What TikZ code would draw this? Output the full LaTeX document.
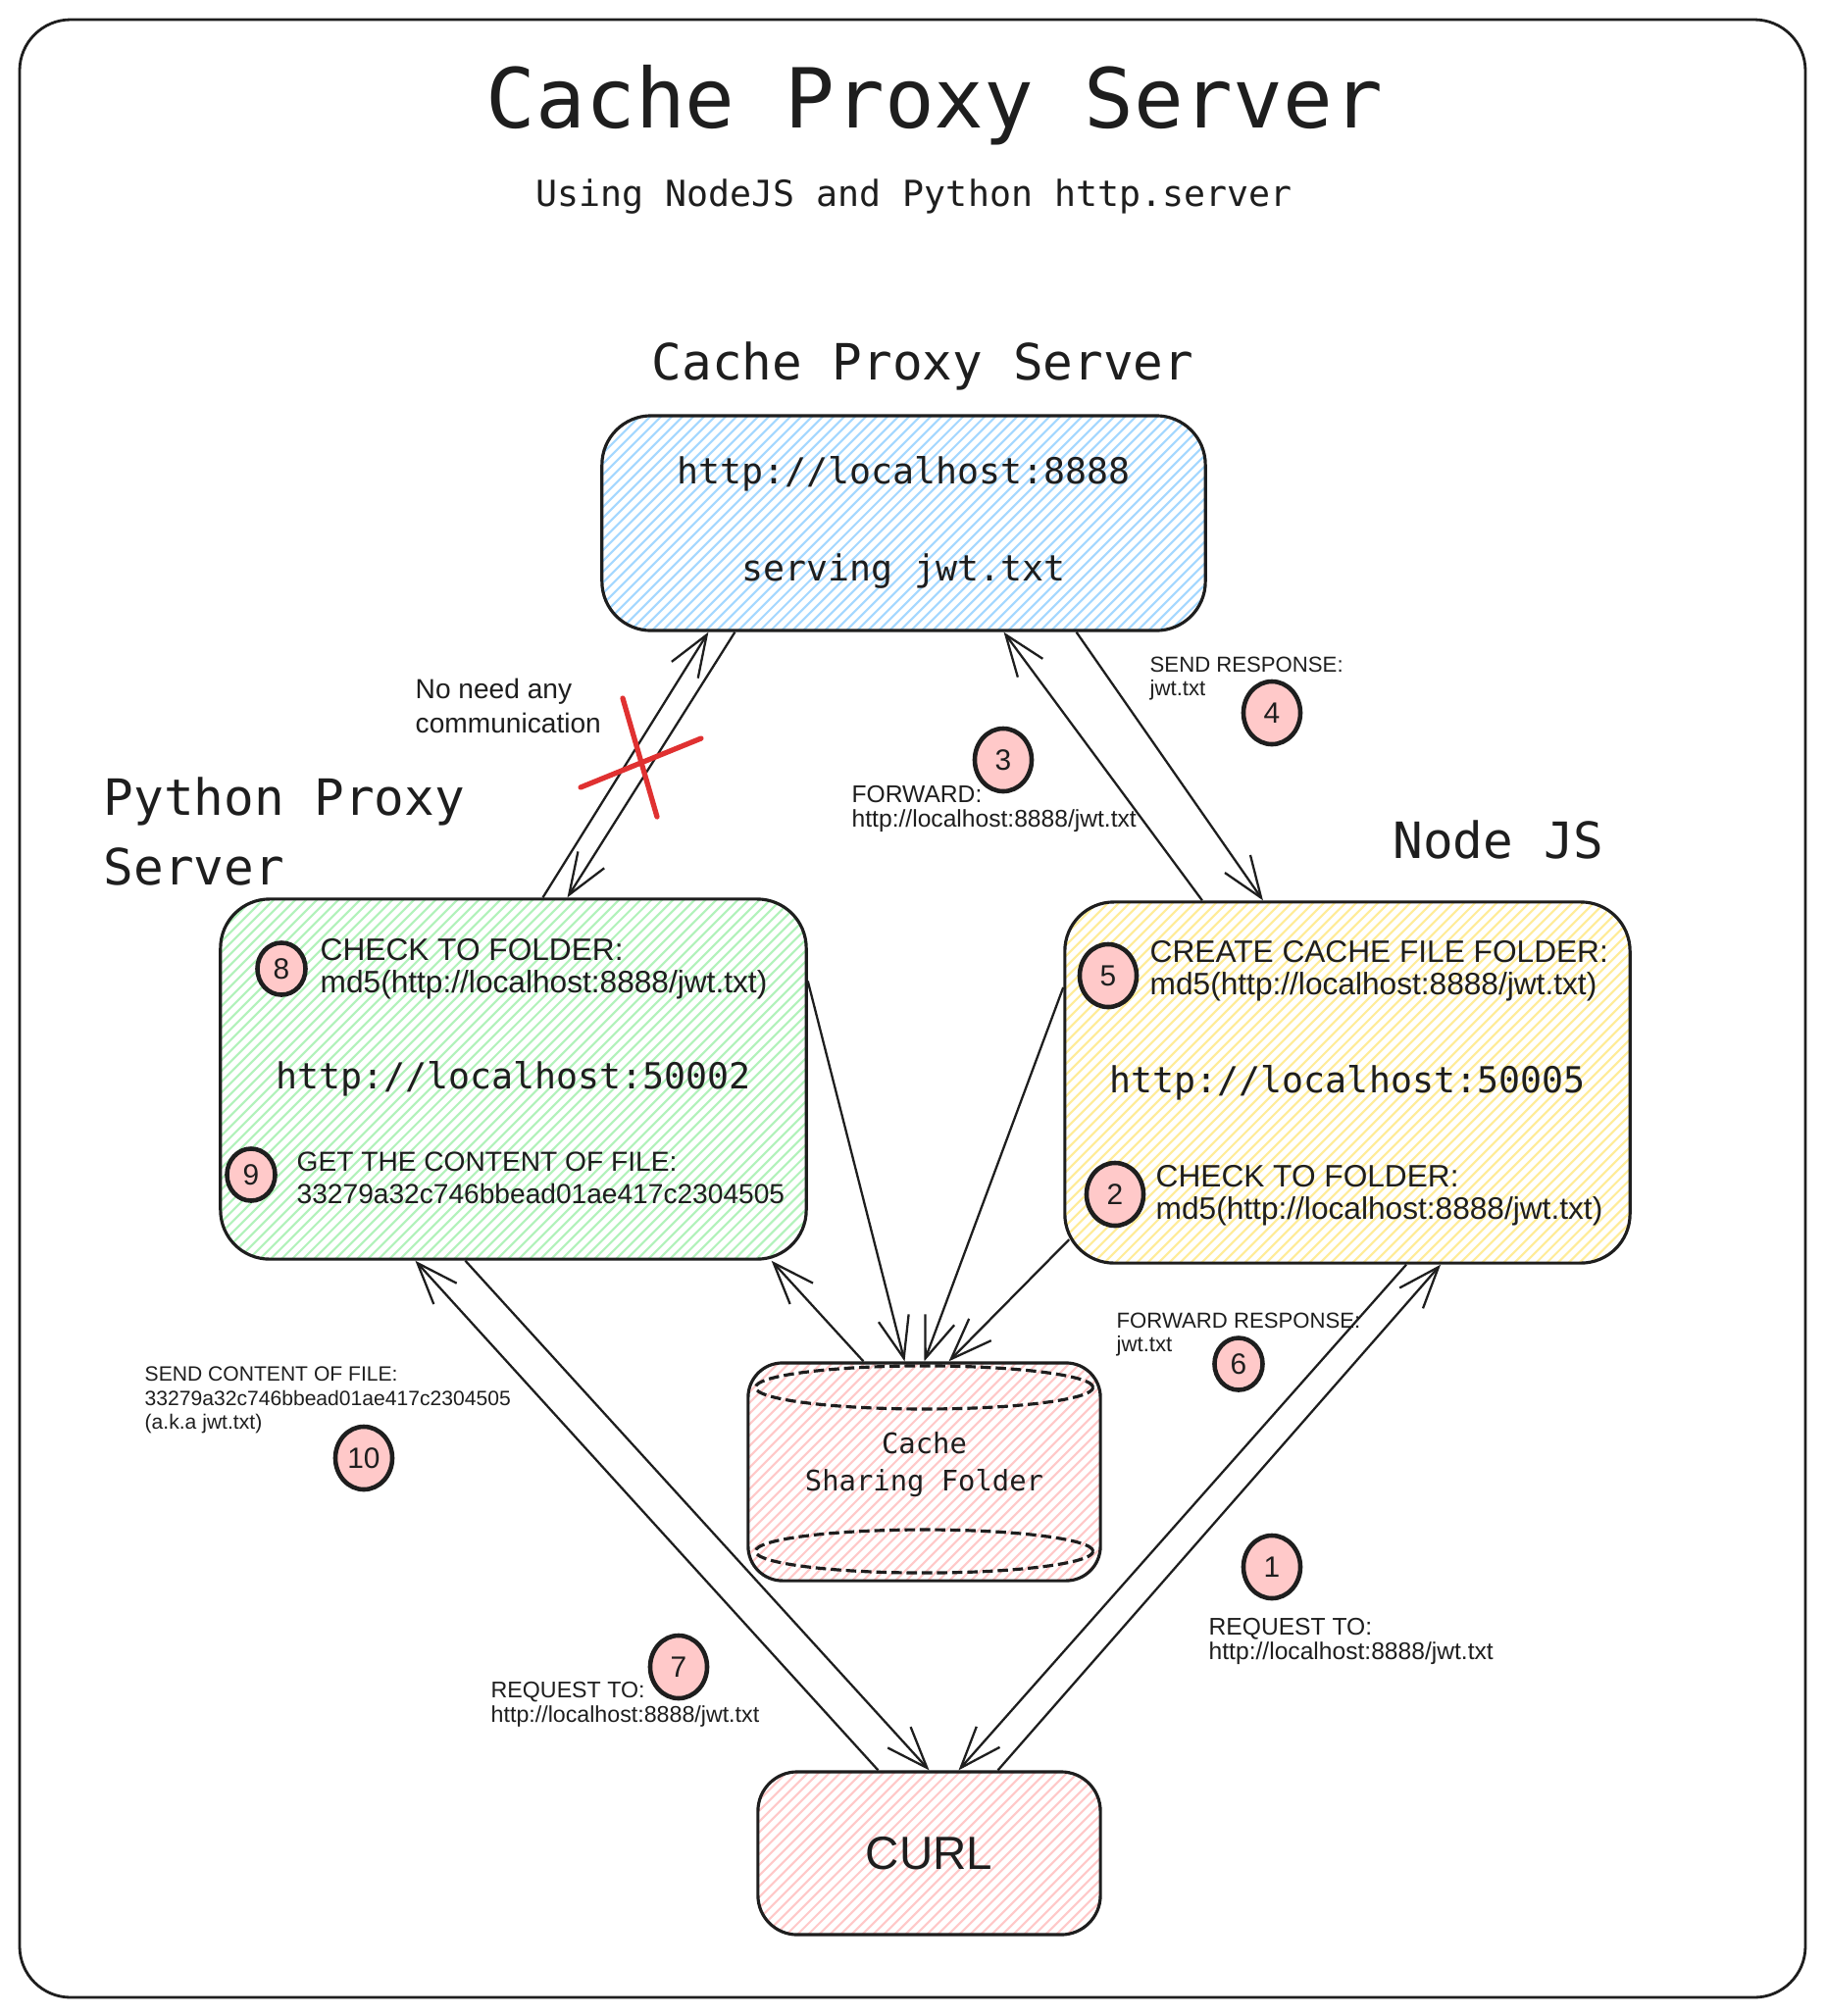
\documentclass[tikz,border=0pt]{standalone}
\usepackage{fontspec}
\setmainfont{Liberation Sans}
\setmonofont{DejaVu Sans Mono}
\usepackage{xcolor}
\usepackage{tikz}
\usetikzlibrary{positioning,arrows.meta,shapes.geometric}

\definecolor{ink}{HTML}{1E1E1E}
\definecolor{hatchblue}{HTML}{A5D8FF}
\definecolor{hatchgreen}{HTML}{B2F2BB}
\definecolor{hatchyellow}{HTML}{FFEC99}
\definecolor{hatchpink}{HTML}{FFC9C9}
\definecolor{crossred}{HTML}{E03131}

\begin{document}
\begin{tikzpicture}[x=0.01cm,y=-0.01cm,
	hatch/.style={path picture={
		\foreach \k in {0,...,100}
			\draw[#1,line width=0.6pt] ([xshift=\k*0.11cm-4cm]path picture bounding box.south west) -- ++(45:6cm);
	}},
	srvbox/.style={draw=ink,line width=0.9pt,rounded corners=0.5cm,inner sep=0pt},
	flow/.style={draw=ink,line width=0.65pt,-{Straight Barb[length=12pt,width=9pt]}},
	stepnum/.style={ellipse,draw=ink,line width=1.3pt,fill=hatchpink,inner sep=0pt,minimum width=0.58cm,minimum height=0.64cm,text=ink,font=\fontsize{8.5}{9}\selectfont},
	smallnum/.style={stepnum,minimum width=0.49cm,minimum height=0.53cm},
	note/.style={inner sep=0pt,anchor=west,align=left,text=ink,font=\fontsize{7}{7}\selectfont},
	boxnote/.style={note,font=\fontsize{9}{9.4}\selectfont},
	code/.style={inner sep=0pt,text=ink,font=\ttfamily\fontsize{10.4}{12}\selectfont}
	]
	\fill[white] (0,0) rectangle (1861,2056);
	% frame
	\draw[ink,line width=0.8pt,rounded corners=0.52cm] (20,20) rectangle (1841,2037);

	% headings
	\node[inner sep=0pt,text=ink,anchor=base,font=\ttfamily\fontsize{24}{28}\selectfont] (title) at (953,130) {Cache Proxy Server};
	\node[code,anchor=base] (subtitle) at (932,210) {Using NodeJS and Python http.server};
	\node[inner sep=0pt,text=ink,anchor=base,font=\ttfamily\fontsize{14.5}{20}\selectfont] (cpslabel) at (941,387) {Cache Proxy Server};
	\node[inner sep=0pt,text=ink,anchor=west,align=left,font=\ttfamily\fontsize{14.5}{20}\selectfont] (ppslabel) at (105,848) {Python Proxy\\Server};
	\node[inner sep=0pt,text=ink,anchor=base,font=\ttfamily\fontsize{14.5}{20}\selectfont] (njslabel) at (1528,875) {Node JS};

	% boxes
	\node[srvbox,hatch=hatchblue,minimum width=6.15cm,minimum height=2.19cm] (cps) at (921.5,533.5) {};
	\node[srvbox,hatch=hatchgreen,minimum width=5.97cm,minimum height=3.67cm] (pps) at (523.5,1100.5) {};
	\node[srvbox,hatch=hatchyellow,minimum width=5.76cm,minimum height=3.68cm] (njs) at (1374,1104) {};
	\node[srvbox,hatch=hatchpink,rounded corners=0.35cm,minimum width=3.59cm,minimum height=2.22cm] (folder) at (942.5,1501) {};
	\node[srvbox,hatch=hatchpink,rounded corners=0.4cm,minimum width=3.49cm,minimum height=1.66cm] (curl) at (947.5,1890) {};

	% cache proxy server
	\node[code] (cpsurl) at ([yshift=0.5cm]cps.center) {http://localhost:8888};
	\node[code] (cpsfile) at ([yshift=-0.49cm]cps.center) {serving jwt.txt};

	% python proxy server
	\node[code] (ppsurl) at (pps) {http://localhost:50002};
	\node[smallnum] (s8) at (287,988) {8};
	\node[boxnote] (n8) at (326,988) {CHECK TO FOLDER:\\md5(http://localhost:8888/jwt.txt)};
	\node[smallnum] (s9) at (256,1198) {9};
	\node[boxnote,font=\fontsize{8}{9.4}\selectfont] (n9) at (302,1201) {GET THE CONTENT OF FILE:\\33279a32c746bbead01ae417c2304505};

	% node js
	\node[code] (njsurl) at (njs) {http://localhost:50005};
	\node[stepnum] (s5) at (1130,995) {5};
	\node[boxnote] (n5) at (1172,990) {CREATE CACHE FILE FOLDER:\\md5(http://localhost:8888/jwt.txt)};
	\node[stepnum] (s2) at (1137,1218) {2};
	\node[boxnote] (n2) at (1178,1219) {CHECK TO FOLDER:\\md5(http://localhost:8888/jwt.txt)};

	% folder: cylinder rims
	\draw[ink,line width=0.9pt,dash pattern=on 3pt off 1.4pt] ([yshift=0.86cm]folder.center) ellipse [x radius=1.72cm,y radius=0.22cm];
	\draw[ink,line width=0.9pt,dash pattern=on 3pt off 1.4pt] ([yshift=-0.81cm]folder.center) ellipse [x radius=1.72cm,y radius=0.22cm];
	\node[code,align=center,font=\ttfamily\fontsize{8.2}{10.8}\selectfont] (foldertext) at ([yshift=0.07cm]folder.center) {Cache\\Sharing Folder};

	\node[inner sep=0pt,text=ink,font=\fontsize{13.5}{16}\selectfont] (curltext) at (curl) {CURL};

	% top <-> python
	\draw[flow] ([xshift=0.3cm]pps.north) -- ([xshift=-1.99cm]cps.south);
	\draw[flow] ([xshift=-1.72cm]cps.south) -- ([xshift=0.55cm]pps.north);
	% top <-> node js
	\draw[flow] ([xshift=-1.48cm]njs.north) -- ([xshift=1.02cm]cps.south);
	\draw[flow] ([xshift=1.76cm]cps.south) -- ([xshift=-0.86cm]njs.north);
	% folder
	\draw[flow] ([yshift=1cm]pps.east) -- ([xshift=-0.2cm]folder.north);
	\draw[flow] ([yshift=0.97cm]njs.west) -- (folder.north);
	\draw[flow] ([xshift=0.06cm,yshift=-1.6cm]njs.west) -- ([xshift=0.25cm]folder.north);
	\draw[flow] ([xshift=-0.62cm]folder.north) -- ([xshift=2.63cm]pps.south);
	% curl
	\draw[flow] ([xshift=-0.52cm]curl.north) -- ([xshift=-1cm]pps.south);
	\draw[flow] ([xshift=-0.49cm]pps.south) -- (curl.north);
	\draw[flow] ([xshift=0.6cm]njs.south) -- ([xshift=0.3cm]curl.north);
	\draw[flow] ([xshift=0.7cm]curl.north) -- ([xshift=0.95cm]njs.south);

	% no communication
	\node[note,font=\fontsize{8}{10}\selectfont] (nocomm) at (423,720) {No need any\\communication};
	\draw[crossred,line width=1.5pt,line cap=round] (635,712) -- (670,833);
	\draw[crossred,line width=1.5pt,line cap=round] (592,803) -- (715,753);

	% step labels
	\node[stepnum] (s3) at (1023,775) {3};
	\node[note] (n3) at (868,825) {FORWARD:\\http://localhost:8888/jwt.txt};
	\node[note,font=\fontsize{6.3}{7}\selectfont] (n4) at (1172,692) {SEND RESPONSE:\\jwt.txt};
	\node[stepnum] (s4) at (1297,727) {4};
	\node[note,font=\fontsize{6.3}{7}\selectfont] (n6) at (1138,1361) {FORWARD RESPONSE:\\jwt.txt};
	\node[smallnum] (s6) at (1263,1391) {6};
	\node[stepnum] (s1) at (1297,1598) {1};
	\node[note] (n1) at (1232,1674) {REQUEST TO:\\http://localhost:8888/jwt.txt};
	\node[note,font=\fontsize{6}{7}\selectfont] (n10) at (147,1428) {SEND CONTENT OF FILE:\\33279a32c746bbead01ae417c2304505\\(a.k.a jwt.txt)};
	\node[stepnum] (s10) at (371,1487) {10};
	\node[stepnum] (s7) at (692,1700) {7};
	\node[note,font=\fontsize{6.6}{7}\selectfont] (n7) at (500,1738) {REQUEST TO:\\http://localhost:8888/jwt.txt};
\end{tikzpicture}
\end{document}
